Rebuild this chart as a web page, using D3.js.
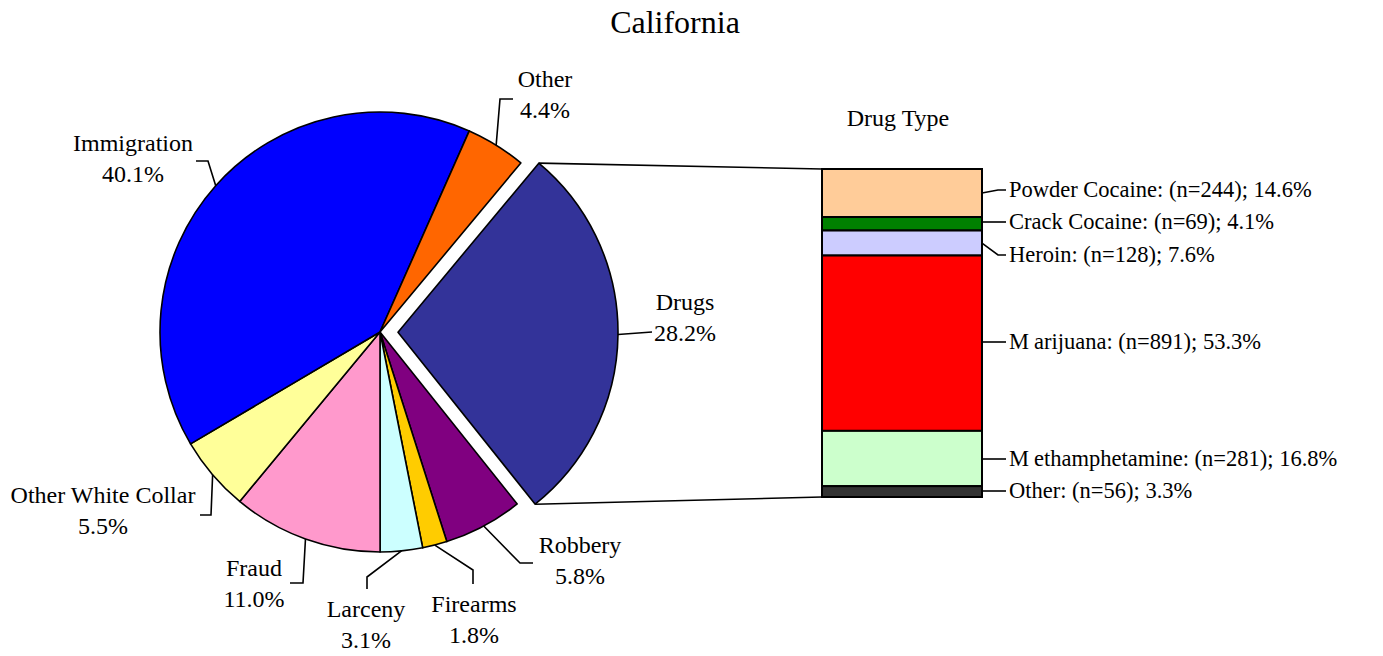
<!DOCTYPE html>
<html><head><meta charset="utf-8">
<script src="https://cdn.jsdelivr.net/npm/d3@7"></script>
<style>
body{margin:0;background:#fff}
text{font-family:"Liberation Serif","Times New Roman",serif;fill:#000}
</style>
</head><body><svg id="c" width="1383" height="656"></svg>
<script>
// ---- data ----
const title = "California";
const pieCategories = ["Drugs","Robbery","Firearms","Larceny","Fraud","Other White Collar","Immigration","Other"];
const pieValues = [28.2, 5.8, 1.8, 3.1, 11.0, 5.5, 40.1, 4.4];
const pieColors = ["#333399","#800080","#FFCC00","#CCFFFF","#FF99CC","#FFFF99","#0000FF","#FF6600"];
const barTitle = "Drug Type";
const drugCategories = ["Powder Cocaine","Crack Cocaine","Heroin","Marijuana","Methamphetamine","Other"];
const drugCounts = [244, 69, 128, 891, 281, 56];
const drugPercents = [14.6, 4.1, 7.6, 53.3, 16.8, 3.3];
const drugColors = ["#FFCC99","#008000","#CCCCFF","#FF0000","#CCFFCC","#333333"];

// ---- layout ----
const cx = 380, cy = 332, R = 220, explode = 18;
const startDeg = 39.8;
// label layout: elbow points after the slice edge point, text centre & first baseline
const pieLabelLayout = [
  {pts:[[652,332]], tx:685, ty:310},            // Drugs
  {pts:[[520,563],[533,563]], tx:580, ty:553},  // Robbery
  {pts:[[473,570],[473,584]], tx:474, ty:612},  // Firearms
  {pts:[[367,577],[367,589]], tx:366, ty:617},  // Larceny
  {pts:[[303,583],[290,583]], tx:254, ty:576},  // Fraud
  {pts:[[211,515],[200,515]], tx:103, ty:503},  // Other White Collar
  {pts:[[208,161],[196,161]], tx:133, ty:151},  // Immigration
  {pts:[[500,99],[513,99]], tx:545, ty:87}      // Other
];
const lineGap = 31;
const barX0 = 822, barX1 = 982, barTop = 169, barBottom = 497;
const barLabelY = [190, 222, 255, 342, 459, 491];

const svg = d3.select("#c");

svg.append("text").attr("x", 675).attr("y", 33).attr("text-anchor","middle")
  .style("font-size","32px").text(title);

// pie
const pie = d3.pie().sort(null).value(d => d)
  .startAngle(startDeg*Math.PI/180).endAngle(startDeg*Math.PI/180 + 2*Math.PI);
const arcs = pie(pieValues);
const arc = d3.arc().innerRadius(0).outerRadius(R);
const g = svg.append("g").attr("transform", `translate(${cx},${cy})`);
const offsets = arcs.map((a,i) => {
  const m = (a.startAngle + a.endAngle)/2;
  const o = i === 0 ? explode : 0;
  return [o*Math.sin(m), -o*Math.cos(m)];
});
g.selectAll("path.slice").data(arcs).join("path")
  .attr("class","slice")
  .attr("d", arc)
  .attr("transform", (d,i) => `translate(${offsets[i][0]},${offsets[i][1]})`)
  .attr("fill", (d,i) => pieColors[i])
  .attr("stroke","#000").attr("stroke-width",1.6).attr("stroke-linejoin","round");

// leader lines and labels
arcs.forEach((a,i) => {
  const m = (a.startAngle + a.endAngle)/2;
  const p0 = [cx + offsets[i][0] + R*Math.sin(m), cy + offsets[i][1] - R*Math.cos(m)];
  const L = pieLabelLayout[i];
  const pts = [p0, ...L.pts];
  svg.append("path").attr("d", d3.line()(pts)).attr("fill","none")
    .attr("stroke","#000").attr("stroke-width",1.6);
  const t = svg.append("text").attr("text-anchor","middle").style("font-size","24px");
  t.append("tspan").attr("x", L.tx).attr("y", L.ty).text(pieCategories[i]);
  t.append("tspan").attr("x", L.tx).attr("y", L.ty + lineGap).text(pieValues[i].toFixed(1) + "%");
});

// connecting lines from exploded slice to bar
const d0 = arcs[0];
const dOff = offsets[0];
const pA = [cx + dOff[0] + R*Math.sin(d0.startAngle), cy + dOff[1] - R*Math.cos(d0.startAngle)];
const pB = [cx + dOff[0] + R*Math.sin(d0.endAngle), cy + dOff[1] - R*Math.cos(d0.endAngle)];
svg.append("line").attr("x1",pA[0]).attr("y1",pA[1]).attr("x2",barX0).attr("y2",barTop)
  .attr("stroke","#000").attr("stroke-width",1.6);
svg.append("line").attr("x1",pB[0]).attr("y1",pB[1]).attr("x2",barX0).attr("y2",barBottom)
  .attr("stroke","#000").attr("stroke-width",1.6);

// stacked bar
const total = d3.sum(drugPercents);
const y = d3.scaleLinear().domain([0,total]).range([barTop, barBottom]);
const cum = d3.cumsum(drugPercents);
const segs = drugPercents.map((v,i) => ({v, y0: i ? cum[i-1] : 0, y1: cum[i]}));
svg.append("text").attr("x", 898).attr("y", 126).attr("text-anchor","middle")
  .style("font-size","24px").text(barTitle);
svg.selectAll("rect.seg").data(segs).join("rect")
  .attr("class","seg")
  .attr("x", barX0).attr("width", barX1 - barX0)
  .attr("y", d => y(d.y0)).attr("height", d => y(d.y1) - y(d.y0))
  .attr("fill", (d,i) => drugColors[i])
  .attr("stroke","#000").attr("stroke-width",2);

segs.forEach((s,i) => {
  const mid = (y(s.y0) + y(s.y1))/2;
  const ly = barLabelY[i];
  const pts = Math.abs(mid - ly) > 3
    ? [[barX1, mid],[barX1 + 16, ly],[barX1 + 24, ly]]
    : [[barX1, ly],[barX1 + 24, ly]];
  svg.append("path").attr("d", d3.line()(pts)).attr("fill","none")
    .attr("stroke","#000").attr("stroke-width",1.6);
  const t = svg.append("text").attr("x", barX1 + 27).attr("y", ly + 7).style("font-size","22.5px");
  const label = `${drugCategories[i]}: (n=${drugCounts[i]}); ${drugPercents[i].toFixed(1)}%`;
  if (label[0] === "M") {
    t.append("tspan").text("M");
    t.append("tspan").attr("dx", 5).text(label.slice(1));
  } else {
    t.text(label);
  }
});
</script>
</body></html>
